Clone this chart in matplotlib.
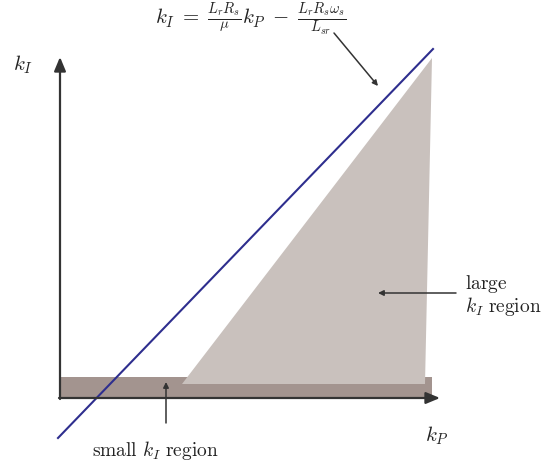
import matplotlib.pyplot as plt
from matplotlib.patches import Polygon, Rectangle

plt.rcParams['mathtext.fontset'] = 'cm'

# geometry (pixel units, y grows downward)
origin = (60, 398)
x_axis_end = 440
y_axis_end = 57
strip_x = [60, 432]
strip_y = [377, 398]
region_x = [182, 432, 425]
region_y = [384, 58, 384]
line_x = [58, 433]
line_y = [438, 49]

axis_col = '#333333'
strip_col = '#a3948f'
region_col = '#c9c1bd'
line_col = '#2e2e8e'

fig = plt.figure(figsize=(5.56, 4.66), dpi=100)
ax = fig.add_axes([0, 0, 1, 1])
ax.set_xlim(0, 556)
ax.set_ylim(466, 0)
ax.axis('off')

ax.add_patch(Rectangle((strip_x[0], strip_y[0]), strip_x[1] - strip_x[0],
                       strip_y[1] - strip_y[0], color=strip_col, lw=0))
ax.add_patch(Polygon(list(zip(region_x, region_y)), color=region_col, lw=0))

arrow = dict(arrowstyle='-|>,head_length=0.6,head_width=0.25', color=axis_col,
             lw=1.6, mutation_scale=14, shrinkA=0, shrinkB=0)
ax.annotate('', xy=(x_axis_end, origin[1]), xytext=(origin[0] - 1, origin[1]), arrowprops=arrow)
ax.annotate('', xy=(origin[0], y_axis_end), xytext=(origin[0], origin[1] + 1), arrowprops=arrow)

ax.plot(line_x, line_y, color=line_col, lw=1.5)

ax.text(23, 65, r'$k_I$', fontsize=15, ha='center', va='center', color='#222222')
ax.text(437, 436, r'$k_P$', fontsize=15, ha='center', va='center', color='#222222')

ax.text(251, 19, r'$k_I\;=\;\frac{L_r R_s}{\mu} k_P\;-\;\frac{L_r R_s \omega_s}{L_{sr}}$',
        fontsize=15, ha='center', va='center', color='#222222')

thin = dict(arrowstyle='-|>', color=axis_col, lw=1.1, mutation_scale=8,
            shrinkA=0, shrinkB=0)
ax.annotate('', xy=(378, 86), xytext=(334, 33), arrowprops=thin)
ax.annotate('', xy=(166, 382), xytext=(166, 423), arrowprops=thin)
ax.annotate('', xy=(378, 293), xytext=(456, 293), arrowprops=thin)

ax.text(155, 451, r'$\mathrm{small}\ k_I\ \mathrm{region}$', fontsize=14,
        ha='center', va='center', color='#222222')
ax.text(465, 284, r'$\mathrm{large}$', fontsize=14, ha='left', va='center', color='#222222')
ax.text(465, 307, r'$k_I\ \mathrm{region}$', fontsize=14, ha='left', va='center', color='#222222')

fig.savefig('out.png', dpi=100)
